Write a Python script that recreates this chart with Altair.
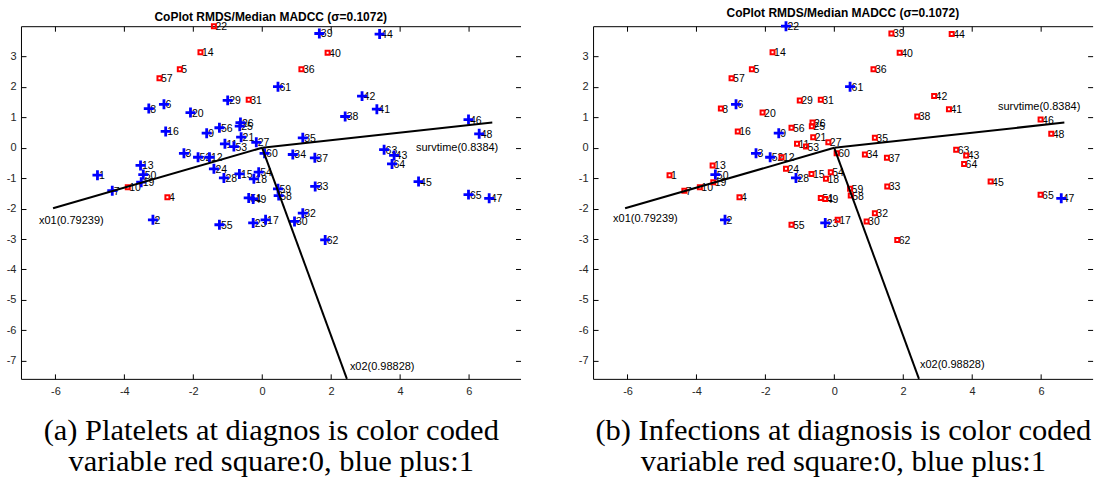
import altair as alt
import pandas as pd

# ---------------- data ----------------
ids = list(range(1, 66))
pt_x = [-4.78, -3.17, -2.27, -2.75, -2.39, -2.85, -4.35, -3.29, -1.61, -3.90,
        -1.08, -1.53, -3.53, -1.79, -0.66, -2.80, 0.10, -0.24, -3.51, -2.08,
        -0.61, -1.40, -0.26, -1.40, -0.65, -0.63, -0.17, -1.11, -1.00, 0.94,
        -0.39, 1.18, 1.54, 0.89, 1.18, 1.14, 1.53, 2.41, 1.66, 1.90,
        3.33, 2.90, 3.83, 3.41, 4.54, 5.99, 6.59, 6.30, -0.26, -3.45,
        -0.39, -1.86, -0.82, -0.10, -1.24, -1.24, -2.98, 0.48, 0.46, 0.07,
        0.46, 1.83, 3.54, 3.77, 5.99]
pt_y = [-0.90, -2.37, -0.18, -1.63, 2.58, 1.43, -1.41, 1.29, 0.48, -1.30,
        0.13, -0.31, -0.58, 3.14, -0.86, 0.54, -2.37, -1.02, -1.13, 1.16,
        0.35, 4.00, -2.47, -0.69, 0.71, 0.83, 0.18, -0.99, 1.56, -2.42,
        1.58, -2.15, -1.27, -0.22, 0.33, 2.58, -0.33, 1.03, 3.76, 3.13,
        1.27, 1.70, -0.25, 3.74, -1.11, 0.93, -1.66, 0.46, -1.68, -0.88,
        -1.65, -0.31, 0.04, -0.80, -2.53, 0.66, 2.29, -1.57, -1.35, -0.18,
        2.01, -3.03, -0.06, -0.53, -1.54]
platelets = [1, 1, 1, 0, 0, 1, 1, 1, 1, 0,
             1, 1, 1, 0, 1, 1, 1, 1, 1, 1,
             1, 0, 1, 1, 1, 1, 1, 1, 1, 1,
             0, 1, 1, 1, 1, 0, 1, 1, 1, 0,
             1, 1, 1, 1, 1, 1, 1, 1, 1, 1,
             1, 1, 1, 1, 1, 1, 0, 1, 1, 1,
             1, 1, 1, 1, 1]
infections = [0, 1, 1, 0, 0, 1, 0, 0, 1, 0,
              0, 0, 0, 0, 0, 0, 0, 0, 0, 0,
              0, 1, 1, 0, 0, 0, 0, 1, 0, 0,
              0, 0, 0, 0, 0, 0, 0, 0, 0, 0,
              0, 0, 0, 0, 0, 0, 1, 0, 0, 1,
              0, 1, 0, 0, 0, 0, 0, 0, 0, 0,
              1, 0, 0, 0, 0]

vec_label = ["x01(0.79239)", "survtime(0.8384)", "x02(0.98828)"]
vec_x = [-6.07, 6.68, 2.46]
vec_y = [-1.99, 0.83, -7.6]

x_ticks = [-6, -4, -2, 0, 2, 4, 6]
y_ticks = [3, 2, 1, 0, -1, -2, -3, -4, -5, -6, -7]
x_domain = [-7, 7.5]
y_domain = [-7.6, 4.0]

title_text = "CoPlot RMDS/Median MADCC (σ=0.1072)"
cap_a = ["(a) Platelets at diagnos is color coded", "variable red square:0, blue plus:1"]
cap_b = ["(b) Infections at diagnosis is color coded", "variable red square:0, blue plus:1"]

# ---------------- build ----------------
W, H = 500, 353
SANS = "Liberation Sans"
SERIF = "Liberation Serif"
PLUS = "M-1,0L1,0M0,-1L0,1"
LAB = "'' + datum.value"

pts = pd.DataFrame({"lab": [str(i) for i in ids], "x": pt_x, "y": pt_y,
                    "plt": platelets, "inf": infections})
vecs = pd.DataFrame({"name": vec_label, "ex": vec_x, "ey": vec_y})

xsc = alt.Scale(domain=x_domain, nice=False, zero=False)
ysc = alt.Scale(domain=y_domain, nice=False, zero=False)


def panel(group, caption, offsets):
    ax_bottom = alt.Axis(orient="bottom", values=x_ticks, ticks=False, domain=True,
                         domainColor="black", grid=False, labelExpr=LAB, labelFont=SANS,
                         labelFontSize=11, labelColor="#262626", labelPadding=7,
                         titleFont=SERIF, titleFontSize=30.5, titleFontWeight="normal",
                         titleColor="black", titlePadding=19, titleLineHeight=31)
    ax_left = alt.Axis(orient="left", values=y_ticks, ticks=False, domain=True,
                       domainColor="black", grid=False, labelExpr=LAB, labelFont=SANS,
                       labelFontSize=11, labelColor="#262626", labelPadding=5)
    # inward ticks along the bottom and left edges
    ax_bt = alt.Axis(orient="top", offset=-H, values=x_ticks, labels=False, domain=False,
                     ticks=True, tickSize=5, tickColor="black", grid=False)
    ax_lt = alt.Axis(orient="right", offset=-W, values=y_ticks, labels=False, domain=False,
                     ticks=True, tickSize=5, tickColor="black", grid=False)
    # top line with inward ticks, and inward ticks on the right edge
    ax_top = alt.Axis(orient="bottom", offset=-H, values=x_ticks, labels=False, domain=True,
                      domainColor="black", ticks=True, tickSize=5, tickColor="black", grid=False)
    ax_rt = alt.Axis(orient="left", offset=-W, values=y_ticks, labels=False, domain=False,
                     ticks=True, tickSize=5, tickColor="black", grid=False)

    base = alt.Chart(pts)
    labels = base.mark_text(align="left", baseline="middle", dx=1.5, dy=1, font=SANS,
                            fontSize=10.5, color="black").encode(
        x=alt.X("x:Q", scale=xsc, axis=ax_bottom, title=caption),
        y=alt.Y("y:Q", scale=ysc, axis=ax_left, title=None),
        text="lab:N",
    )
    markers = base.mark_point(filled=False, opacity=1).encode(
        x=alt.X("x:Q", scale=xsc, axis=ax_top, title=None),
        y=alt.Y("y:Q", scale=ysc, axis=ax_rt, title=None),
        shape=alt.Shape(f"{group}:N", scale=alt.Scale(domain=[0, 1], range=["square", PLUS]), legend=None),
        color=alt.Color(f"{group}:N", scale=alt.Scale(domain=[0, 1], range=["#ff0000", "#0000ff"]), legend=None),
        size=alt.Size(f"{group}:N", scale=alt.Scale(domain=[0, 1], range=[16, 100]), legend=None),
        strokeWidth=alt.StrokeWidth(f"{group}:N", scale=alt.Scale(domain=[0, 1], range=[2, 2.8]), legend=None),
    )
    rules = alt.Chart(vecs).transform_calculate(x0="0", y0="0").mark_rule(
        color="black", strokeWidth=2).encode(
        x=alt.X("x0:Q", scale=xsc, axis=ax_bt, title=None),
        y=alt.Y("y0:Q", scale=ysc, axis=ax_lt, title=None),
        x2="ex:Q", y2="ey:Q",
    )
    vlabels = []
    for name, (align, dx, dy) in zip(vec_label, offsets):
        vlabels.append(
            alt.Chart(vecs).transform_filter(alt.datum.name == name).mark_text(
                align=align, baseline="middle", dx=dx, dy=dy, font=SANS, fontSize=11,
                color="black").encode(
                x=alt.X("ex:Q", scale=xsc, axis=None),
                y=alt.Y("ey:Q", scale=ysc, axis=None),
                text="name:N",
            )
        )
    return alt.layer(labels, markers, rules, *vlabels).resolve_scale(
        x="shared", y="shared").resolve_axis(x="independent", y="independent").properties(
        width=W, height=H,
        title=alt.TitleParams(title_text, font=SANS, fontSize=12, fontWeight="bold",
                              color="black", offset=-4, anchor="middle", frame="group"))


pa = panel("plt", cap_a, [("left", -14, 13), ("right", 6, 25), ("left", 3, -12)])
pb = panel("inf", cap_b, [("left", -12, 11), ("right", 16, -16), ("left", 1, -14)])

chart = alt.hconcat(pa, pb, spacing=72.6, bounds="flush").properties(
    padding={"left": 6, "top": 6, "right": 0, "bottom": 0}
).configure_view(strokeOpacity=0)

chart.save("out.html", embed_options={"renderer": "svg", "actions": False})
